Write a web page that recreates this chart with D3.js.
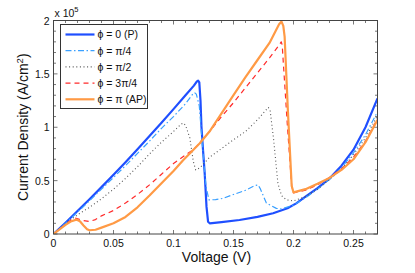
<!DOCTYPE html>
<html>
<head>
<meta charset="utf-8">
<script src="https://cdn.jsdelivr.net/npm/d3@7"></script>
<style>
  html, body { margin: 0; padding: 0; background: #fff; }
  svg { display: block; font-family: "Liberation Sans", Arial, sans-serif; }
</style>
</head>
<body>
<svg id="chart"></svg>
<script>
// values: [voltage (V), current density (x 1e5 A/cm^2)]
const phi0 = [
  [0,0],[0.01,0.106],[0.02,0.215],[0.03,0.326],[0.04,0.439],[0.05,0.555],[0.06,0.673],
  [0.07,0.794],[0.08,0.917],[0.09,1.042],[0.10,1.17],[0.11,1.30],[0.117,1.39],[0.1195,1.43],
  [0.1205,1.437],[0.1215,1.42],[0.1225,1.25],[0.1233,1.005],[0.1246,0.787],[0.126,0.568],
  [0.1275,0.256],[0.1288,0.115],[0.1302,0.10],[0.14,0.112],[0.155,0.131],[0.17,0.16],
  [0.183,0.194],[0.195,0.241],[0.2023,0.287],[0.21,0.35],[0.22,0.43],[0.23,0.52],
  [0.24,0.64],[0.25,0.79],[0.26,1.0],[0.27,1.27]
];
const phiQuarter = [
  [0,0],[0.01,0.10],[0.02,0.205],[0.03,0.31],[0.04,0.42],[0.05,0.53],[0.06,0.64],
  [0.07,0.755],[0.08,0.87],[0.09,0.99],[0.10,1.10],[0.11,1.22],[0.116,1.31],[0.1175,1.325],
  [0.119,1.31],[0.1215,1.2],[0.124,0.85],[0.127,0.45],[0.1295,0.32],[0.135,0.322],
  [0.1413,0.334],[0.15,0.37],[0.16,0.41],[0.168,0.455],[0.1705,0.46],[0.1725,0.42],
  [0.1774,0.29],[0.1857,0.24],[0.19,0.235],[0.2,0.27],[0.21,0.34],[0.22,0.42],
  [0.23,0.51],[0.24,0.62],[0.25,0.76],[0.26,0.93],[0.27,1.145]
];
const phiHalf = [
  [0,0],[0.01,0.095],[0.02,0.18],[0.03,0.25],[0.04,0.33],[0.05,0.42],[0.06,0.52],
  [0.07,0.63],[0.08,0.75],[0.09,0.86],[0.10,0.96],[0.106,1.025],[0.108,1.04],[0.110,1.02],
  [0.1136,0.9],[0.1165,0.68],[0.1185,0.6],[0.122,0.62],[0.1302,0.72],[0.14,0.8],
  [0.1496,0.88],[0.16,0.96],[0.17,1.07],[0.177,1.16],[0.179,1.185],[0.1805,1.16],
  [0.1835,0.88],[0.187,0.475],[0.19,0.36],[0.194,0.32],[0.2,0.31],[0.21,0.35],
  [0.22,0.42],[0.23,0.51],[0.24,0.61],[0.25,0.74],[0.26,0.9],[0.27,1.11]
];
const phi3Quarter = [
  [0,0],[0.01,0.09],[0.015,0.135],[0.018,0.15],[0.021,0.14],[0.025,0.125],[0.03,0.118],
  [0.035,0.135],[0.04,0.17],[0.05,0.22],[0.06,0.29],[0.07,0.37],[0.08,0.46],[0.09,0.56],
  [0.10,0.66],[0.11,0.74],[0.116,0.786],[0.12,0.83],[0.13,0.96],[0.14,1.1],[0.15,1.23],
  [0.16,1.37],[0.17,1.51],[0.18,1.65],[0.188,1.77],[0.1898,1.80],[0.1906,1.77],
  [0.1912,1.66],[0.195,1.0],[0.1985,0.45],[0.2,0.385],[0.21,0.41],[0.22,0.46],
  [0.23,0.53],[0.24,0.61],[0.25,0.72],[0.26,0.87],[0.27,1.08]
];
const phiPi = [
  [0,0],[0.01,0.085],[0.015,0.12],[0.019,0.135],[0.022,0.12],[0.025,0.08],[0.028,0.045],
  [0.03,0.035],[0.035,0.04],[0.04,0.06],[0.05,0.1],[0.06,0.16],[0.07,0.25],[0.08,0.36],
  [0.09,0.475],[0.10,0.59],[0.108,0.69],[0.115,0.77],[0.1219,0.85],[0.13,0.96],
  [0.14,1.13],[0.15,1.30],[0.16,1.47],[0.17,1.63],[0.18,1.79],[0.185,1.9],[0.188,1.965],
  [0.19,1.99],[0.1915,1.95],[0.1926,1.85],[0.1953,1.16],[0.1985,0.45],[0.2,0.39],
  [0.21,0.42],[0.22,0.47],[0.23,0.525],[0.24,0.6],[0.25,0.7],[0.26,0.86],[0.27,1.07]
];

const seriesNames = ['\u03d5 = 0 (P)', '\u03d5 = \u03c0/4', '\u03d5 = \u03c0/2', '\u03d5 = 3\u03c0/4', '\u03d5 = \u03c0 (AP)'];
const seriesData = [phi0, phiQuarter, phiHalf, phi3Quarter, phiPi];

const xTicks = [0, 0.05, 0.1, 0.15, 0.2, 0.25];
const xTickLabels = ['0', '0.05', '0.1', '0.15', '0.2', '0.25'];
const yTicks = [0, 0.5, 1, 1.5, 2];
const yTickLabels = ['0', '0.5', '1', '1.5', '2'];

const styles = [
  { color: '#1f4fff', width: 2.2, dash: null },
  { color: '#3aa0ff', width: 1.2, dash: '6,2.5,1.5,2.5' },
  { color: '#555555', width: 1.1, dash: '1,2.6' },
  { color: '#ff2a2a', width: 1.2, dash: '5,4' },
  { color: '#ff9a45', width: 2.2, dash: null }
];

const geom = {
  width: 415, height: 273,
  margins: { left: 53.5, right: 37.5, top: 20.5, bottom: 39 }
};

const svg = d3.select('#chart')
  .attr('width', geom.width)
  .attr('height', geom.height);

const x = d3.scaleLinear()
  .domain([0, 0.27])
  .range([geom.margins.left, geom.width - geom.margins.right]);
const y = d3.scaleLinear()
  .domain([0, 2])
  .range([geom.height - geom.margins.bottom, geom.margins.top]);

const x0 = x.range()[0], x1 = x.range()[1];
const y0 = y.range()[0], y1 = y.range()[1];

svg.append('rect')
  .attr('x', x0).attr('y', y1)
  .attr('width', x1 - x0).attr('height', y0 - y1)
  .attr('fill', '#fff');

svg.append('clipPath').attr('id', 'plotclip')
  .append('rect')
  .attr('x', x0).attr('y', y1 - 2)
  .attr('width', x1 - x0).attr('height', y0 - y1 + 2);

// minor + major ticks, inward on all four sides
const tickCol = '#555';
const xMinor = d3.range(0, 0.2701, 0.01);
const yMinor = d3.range(0, 2.0001, 0.1);
const ticks = svg.append('g').attr('stroke', tickCol).attr('stroke-width', 0.8);
xMinor.forEach(v => {
  const isMajor = xTicks.some(t => Math.abs(t - v) < 1e-6);
  const len = isMajor ? 4 : 2.5;
  ticks.append('line').attr('x1', x(v)).attr('x2', x(v)).attr('y1', y0).attr('y2', y0 - len);
  ticks.append('line').attr('x1', x(v)).attr('x2', x(v)).attr('y1', y1).attr('y2', y1 + len);
});
yMinor.forEach(v => {
  const isMajor = yTicks.some(t => Math.abs(t - v) < 1e-6);
  const len = isMajor ? 4 : 2.5;
  ticks.append('line').attr('y1', y(v)).attr('y2', y(v)).attr('x1', x0).attr('x2', x0 + len);
  ticks.append('line').attr('y1', y(v)).attr('y2', y(v)).attr('x1', x1).attr('x2', x1 - len);
});

// curves
const line = d3.line().x(d => x(d[0])).y(d => y(d[1])).curve(d3.curveLinear);
const curves = svg.append('g').attr('clip-path', 'url(#plotclip)');
seriesData.forEach((s, i) => {
  curves.append('path')
    .attr('d', line(s))
    .attr('fill', 'none')
    .attr('stroke', styles[i].color)
    .attr('stroke-width', styles[i].width)
    .attr('stroke-dasharray', styles[i].dash)
    .attr('stroke-linejoin', 'round');
});

// frame
svg.append('rect')
  .attr('x', x0).attr('y', y1)
  .attr('width', x1 - x0).attr('height', y0 - y1)
  .attr('fill', 'none').attr('stroke', '#444').attr('stroke-width', 1);

// tick labels
svg.append('g').selectAll('text')
  .data(xTicks)
  .join('text')
  .attr('x', d => x(d))
  .attr('y', y0 + 13)
  .attr('text-anchor', 'middle')
  .attr('font-size', 10.5)
  .attr('fill', '#111')
  .text((d, i) => xTickLabels[i]);

svg.append('g').selectAll('text')
  .data(yTicks)
  .join('text')
  .attr('x', x0 - 4)
  .attr('y', d => y(d) + 4)
  .attr('text-anchor', 'end')
  .attr('font-size', 10.5)
  .attr('fill', '#111')
  .text((d, i) => yTickLabels[i]);

// exponent
const expo = svg.append('text')
  .attr('x', 54.5).attr('y', 16.5)
  .attr('font-size', 10.5).attr('fill', '#111');
expo.append('tspan').text('x 10');
expo.append('tspan').attr('dy', -5).attr('font-size', 7.5).text('5');

// axis labels
svg.append('text')
  .attr('x', (x0 + x1) / 2 + 1)
  .attr('y', 262)
  .attr('text-anchor', 'middle')
  .attr('font-size', 14)
  .attr('fill', '#111')
  .text('Voltage (V)');

const yl = svg.append('text')
  .attr('transform', 'translate(28,' + ((y0 + y1) / 2) + ') rotate(-90)')
  .attr('text-anchor', 'middle')
  .attr('font-size', 14)
  .attr('fill', '#111');
yl.append('tspan').text('Current Density (A/cm');
yl.append('tspan').attr('dy', -5).attr('font-size', 9.5).text('2');
yl.append('tspan').attr('dy', 5).text(')');

// legend
const lg = svg.append('g');
lg.append('rect')
  .attr('x', 60.5).attr('y', 24.5)
  .attr('width', 87).attr('height', 84)
  .attr('fill', '#fff').attr('stroke', '#333').attr('stroke-width', 1);
seriesNames.forEach((name, i) => {
  const ly = 34.5 + i * 16.2;
  lg.append('line')
    .attr('x1', 65.5).attr('x2', 94.5)
    .attr('y1', ly).attr('y2', ly)
    .attr('stroke', styles[i].color)
    .attr('stroke-width', styles[i].width)
    .attr('stroke-dasharray', styles[i].dash);
  lg.append('text')
    .attr('x', 97.5).attr('y', ly + 3.8)
    .attr('font-size', 10.5)
    .attr('fill', '#111')
    .text(name);
});
</script>
</body>
</html>
